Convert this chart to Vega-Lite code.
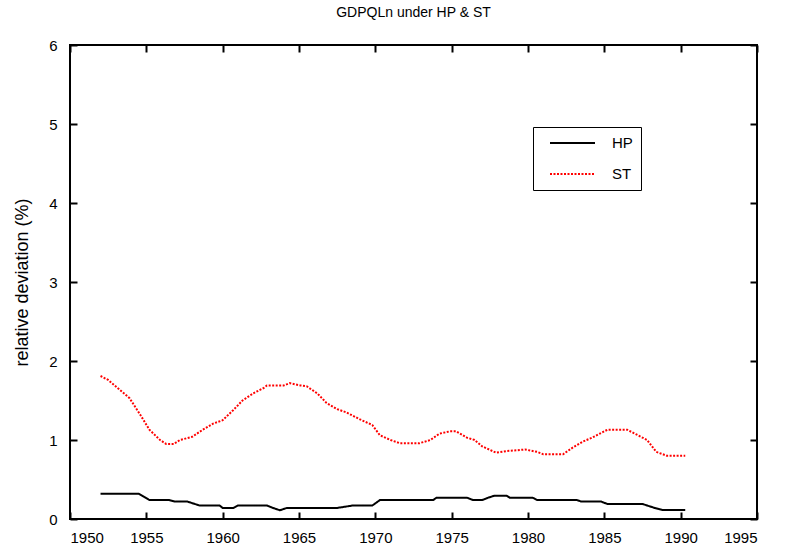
{
  "$schema": "https://vega.github.io/schema/vega-lite/v6.json",
  "width": 687,
  "height": 474,
  "autosize": {"type": "none"},
  "padding": {"left": 70, "top": 45, "right": 28, "bottom": 35},
  "title": {"text": "GDPQLn under HP & ST", "fontSize": 14, "fontWeight": "normal", "font": "Liberation Sans", "offset": 18, "color": "black"},
  "config": {
    "font": "Liberation Sans",
    "view": {"stroke": "black", "strokeWidth": 2},
    "axis": {"grid": false, "domain": false, "tickColor": "black", "tickWidth": 2, "tickSize": -7, "labelColor": "black", "labelFontSize": 15, "titleColor": "black", "titleFontWeight": "normal"},
    "legend": {"strokeColor": "black", "padding": 8}
  },
  "data": {"values": [
    {"year": 1952.0, "value": 0.32, "series": "HP"},
    {"year": 1954.5, "value": 0.32, "series": "HP"},
    {"year": 1955.2, "value": 0.24, "series": "HP"},
    {"year": 1956.5, "value": 0.24, "series": "HP"},
    {"year": 1956.9, "value": 0.22, "series": "HP"},
    {"year": 1957.7, "value": 0.22, "series": "HP"},
    {"year": 1958.5, "value": 0.17, "series": "HP"},
    {"year": 1959.8, "value": 0.17, "series": "HP"},
    {"year": 1960.0, "value": 0.14, "series": "HP"},
    {"year": 1960.7, "value": 0.14, "series": "HP"},
    {"year": 1961.0, "value": 0.17, "series": "HP"},
    {"year": 1962.9, "value": 0.17, "series": "HP"},
    {"year": 1963.3, "value": 0.14, "series": "HP"},
    {"year": 1963.75, "value": 0.11, "series": "HP"},
    {"year": 1964.2, "value": 0.14, "series": "HP"},
    {"year": 1967.5, "value": 0.14, "series": "HP"},
    {"year": 1968.5, "value": 0.17, "series": "HP"},
    {"year": 1969.8, "value": 0.17, "series": "HP"},
    {"year": 1970.3, "value": 0.24, "series": "HP"},
    {"year": 1973.8, "value": 0.24, "series": "HP"},
    {"year": 1974.0, "value": 0.27, "series": "HP"},
    {"year": 1976.0, "value": 0.27, "series": "HP"},
    {"year": 1976.4, "value": 0.24, "series": "HP"},
    {"year": 1977.0, "value": 0.24, "series": "HP"},
    {"year": 1977.4, "value": 0.27, "series": "HP"},
    {"year": 1977.8, "value": 0.295, "series": "HP"},
    {"year": 1978.6, "value": 0.295, "series": "HP"},
    {"year": 1978.8, "value": 0.27, "series": "HP"},
    {"year": 1980.3, "value": 0.27, "series": "HP"},
    {"year": 1980.6, "value": 0.24, "series": "HP"},
    {"year": 1983.2, "value": 0.24, "series": "HP"},
    {"year": 1983.5, "value": 0.22, "series": "HP"},
    {"year": 1984.8, "value": 0.22, "series": "HP"},
    {"year": 1985.2, "value": 0.19, "series": "HP"},
    {"year": 1987.5, "value": 0.19, "series": "HP"},
    {"year": 1988.3, "value": 0.14, "series": "HP"},
    {"year": 1988.8, "value": 0.115, "series": "HP"},
    {"year": 1990.3, "value": 0.115, "series": "HP"},
    {"year": 1952.0, "value": 1.81, "series": "ST"},
    {"year": 1952.5, "value": 1.76, "series": "ST"},
    {"year": 1953.9, "value": 1.53, "series": "ST"},
    {"year": 1954.6, "value": 1.32, "series": "ST"},
    {"year": 1955.2, "value": 1.13, "series": "ST"},
    {"year": 1955.9, "value": 1.0, "series": "ST"},
    {"year": 1956.3, "value": 0.95, "series": "ST"},
    {"year": 1956.8, "value": 0.95, "series": "ST"},
    {"year": 1957.2, "value": 1.0, "series": "ST"},
    {"year": 1958.0, "value": 1.04, "series": "ST"},
    {"year": 1958.7, "value": 1.13, "series": "ST"},
    {"year": 1959.4, "value": 1.21, "series": "ST"},
    {"year": 1960.0, "value": 1.25, "series": "ST"},
    {"year": 1960.7, "value": 1.38, "series": "ST"},
    {"year": 1961.3, "value": 1.5, "series": "ST"},
    {"year": 1962.0, "value": 1.59, "series": "ST"},
    {"year": 1962.7, "value": 1.66, "series": "ST"},
    {"year": 1962.9, "value": 1.69, "series": "ST"},
    {"year": 1964.0, "value": 1.69, "series": "ST"},
    {"year": 1964.4, "value": 1.72, "series": "ST"},
    {"year": 1965.1, "value": 1.69, "series": "ST"},
    {"year": 1965.5, "value": 1.68, "series": "ST"},
    {"year": 1966.2, "value": 1.59, "series": "ST"},
    {"year": 1966.8, "value": 1.47, "series": "ST"},
    {"year": 1967.5, "value": 1.39, "series": "ST"},
    {"year": 1968.1, "value": 1.35, "series": "ST"},
    {"year": 1969.0, "value": 1.26, "series": "ST"},
    {"year": 1969.8, "value": 1.19, "series": "ST"},
    {"year": 1970.3, "value": 1.06, "series": "ST"},
    {"year": 1971.0, "value": 1.0, "series": "ST"},
    {"year": 1971.6, "value": 0.96, "series": "ST"},
    {"year": 1972.9, "value": 0.96, "series": "ST"},
    {"year": 1973.6, "value": 1.0, "series": "ST"},
    {"year": 1974.2, "value": 1.08, "series": "ST"},
    {"year": 1974.9, "value": 1.11, "series": "ST"},
    {"year": 1975.3, "value": 1.11, "series": "ST"},
    {"year": 1976.0, "value": 1.03, "series": "ST"},
    {"year": 1976.5, "value": 1.0, "series": "ST"},
    {"year": 1977.0, "value": 0.92, "series": "ST"},
    {"year": 1977.9, "value": 0.84, "series": "ST"},
    {"year": 1978.6, "value": 0.86, "series": "ST"},
    {"year": 1979.3, "value": 0.87, "series": "ST"},
    {"year": 1979.8, "value": 0.88, "series": "ST"},
    {"year": 1980.6, "value": 0.85, "series": "ST"},
    {"year": 1981.0, "value": 0.82, "series": "ST"},
    {"year": 1982.3, "value": 0.82, "series": "ST"},
    {"year": 1982.9, "value": 0.9, "series": "ST"},
    {"year": 1983.6, "value": 0.98, "series": "ST"},
    {"year": 1984.2, "value": 1.03, "series": "ST"},
    {"year": 1985.2, "value": 1.13, "series": "ST"},
    {"year": 1986.5, "value": 1.13, "series": "ST"},
    {"year": 1987.1, "value": 1.07, "series": "ST"},
    {"year": 1987.8, "value": 1.0, "series": "ST"},
    {"year": 1988.4, "value": 0.85, "series": "ST"},
    {"year": 1989.1, "value": 0.8, "series": "ST"},
    {"year": 1990.3, "value": 0.8, "series": "ST"}
  ]},
  "layer": [
    {
      "mark": {"type": "line", "strokeWidth": 2, "strokeCap": "butt"},
      "encoding": {
        "x": {"field": "year", "type": "quantitative", "scale": {"domain": [1950, 1995], "nice": false, "zero": false},
              "axis": {"values": [1950,1955,1960,1965,1970,1975,1980,1985,1990,1995], "format": "d", "title": null, "labelPadding": 18}},
        "y": {"field": "value", "type": "quantitative", "scale": {"domain": [0, 6], "nice": false},
              "axis": {"values": [0,1,2,3,4,5,6], "title": "relative deviation (%)", "titleFontSize": 18, "labelPadding": 20, "titlePadding": 17}},
        "color": {"field": "series", "type": "nominal", "scale": {"domain": ["HP", "ST"], "range": ["black", "#ff0000"]},
                  "legend": {"title": null, "orient": "none", "legendX": 463, "legendY": 82, "symbolType": "M-3.214,0H3.214", "symbolSize": 196, "symbolOffset": 23.5, "symbolStrokeWidth": 2, "labelFontSize": 15, "labelOffset": 31.5, "rowPadding": 15}},
        "strokeDash": {"field": "series", "type": "nominal", "scale": {"domain": ["HP", "ST"], "range": [[1, 0], [2, 1.5]]},
                  "legend": {"title": null, "orient": "none", "legendX": 463, "legendY": 82, "symbolType": "M-3.214,0H3.214", "symbolSize": 196, "symbolOffset": 23.5, "symbolStrokeWidth": 2, "labelFontSize": 15, "labelOffset": 31.5, "rowPadding": 15}}
      }
    },
    {
      "mark": {"type": "line", "opacity": 0},
      "encoding": {
        "x": {"field": "year", "type": "quantitative", "axis": {"orient": "top", "labels": false, "title": null, "values": [1950,1955,1960,1965,1970,1975,1980,1985,1990,1995]}},
        "y": {"field": "value", "type": "quantitative", "axis": {"orient": "right", "labels": false, "title": null, "values": [0,1,2,3,4,5,6]}},
        "detail": {"field": "series"}
      }
    }
  ],
  "resolve": {"axis": {"x": "independent", "y": "independent"}}
}
